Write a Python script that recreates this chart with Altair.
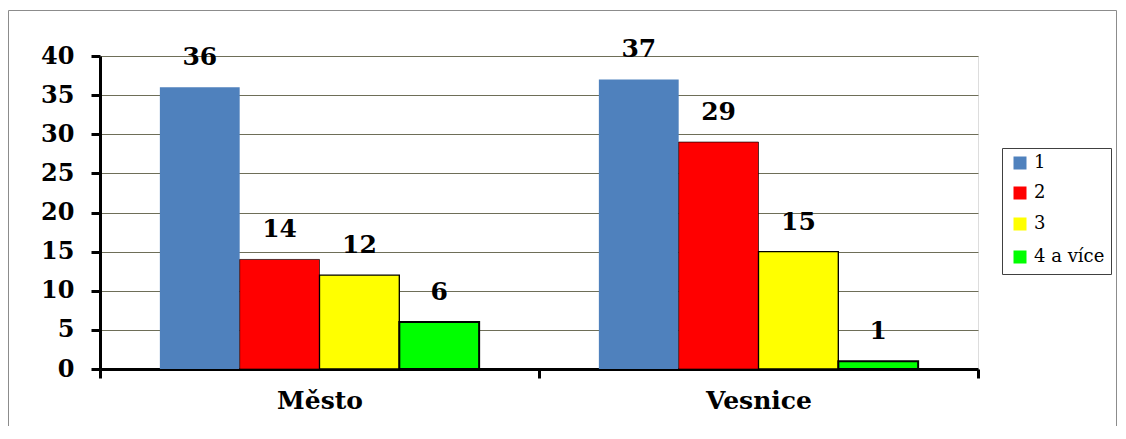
import altair as alt
import pandas as pd

categories = ["Město", "Vesnice"]
series = ["1", "2", "3", "4 a více"]
mesto = [36, 14, 12, 6]
vesnice = [37, 29, 15, 1]
colors = ["#4F81BD", "#FF0000", "#FFFF00", "#00FF00"]
stroke_widths = [0, 2, 2, 2]

rows = []
for cat, vals in zip(categories, [mesto, vesnice]):
    for s, v in zip(series, vals):
        rows.append({"cat": cat, "series": s, "value": v})
df = pd.DataFrame(rows)

FONT = "DejaVu Serif"

x = alt.X("cat:N", sort=categories, title=None,
          scale=alt.Scale(paddingInner=0, paddingOuter=0),
          axis=alt.Axis(labelAngle=0, labelFontSize=25, labelFontWeight="bold",
                        labelFont=FONT, labelColor="black", labelPadding=10,
                        domainColor="black", domainWidth=3, tickColor="black",
                        tickWidth=3, tickSize=9, tickBand="extent", grid=False))
xo = alt.XOffset("series:N", sort=series,
                 scale=alt.Scale(paddingOuter=0.75, paddingInner=0))
y = alt.Y("value:Q", title=None,
          scale=alt.Scale(domain=[0, 40], nice=False),
          axis=alt.Axis(values=[0, 5, 10, 15, 20, 25, 30, 35, 40],
                        labelFontSize=24, labelFontWeight="bold", labelFont=FONT,
                        labelColor="black", labelPadding=17,
                        domainColor="black", domainWidth=3, tickColor="black",
                        tickWidth=3, tickSize=9, grid=True, gridColor="#6E6E58",
                        gridWidth=1))

legend = alt.Legend(title=None, orient="none", legendX=902, legendY=92,
                    labelFont=FONT, labelFontSize=18, labelColor="black",
                    symbolType="square", symbolSize=169,
                    symbolStrokeColor="black", symbolOffset=3,
                    rowPadding=12, padding=6, strokeColor="#404040",
                    fillColor="white", labelOffset=5)

base = alt.Chart(df)

bars = base.mark_bar(stroke="black").encode(
    x=x, xOffset=xo, y=y,
    color=alt.Color("series:N", sort=series,
                    scale=alt.Scale(domain=series, range=colors),
                    legend=legend),
    strokeWidth=alt.StrokeWidth("series:N", sort=series,
                                scale=alt.Scale(domain=series, range=stroke_widths),
                                legend=legend),
)

labels = base.mark_text(font=FONT, fontSize=25, fontWeight="bold", color="black",
                        baseline="middle", dy=-30).encode(
    x=x, xOffset=xo, y=y, text=alt.Text("value:Q"))

frame = alt.Chart(pd.DataFrame({"a": [0]})).mark_rect(
    filled=False, stroke="#8C8C8C", strokeWidth=1).encode(
    x=alt.value(-91.5), x2=alt.value(1016.5), y=alt.value(-45.5), y2=alt.value(420))

chart = alt.layer(frame, bars, labels).properties(
    width=878, height=313,
    autosize=alt.AutoSizeParams(type="none"),
    padding={"left": 92, "top": 48, "right": 140, "bottom": 57},
).configure_view(fill="#FFFFCC", stroke="#9A9A9A", strokeWidth=1.5).configure(
    background="white", font=FONT,
    legend=alt.LegendConfig(labelFont=FONT))

chart.save("out.html", embed_options={"renderer": "svg", "actions": False})
